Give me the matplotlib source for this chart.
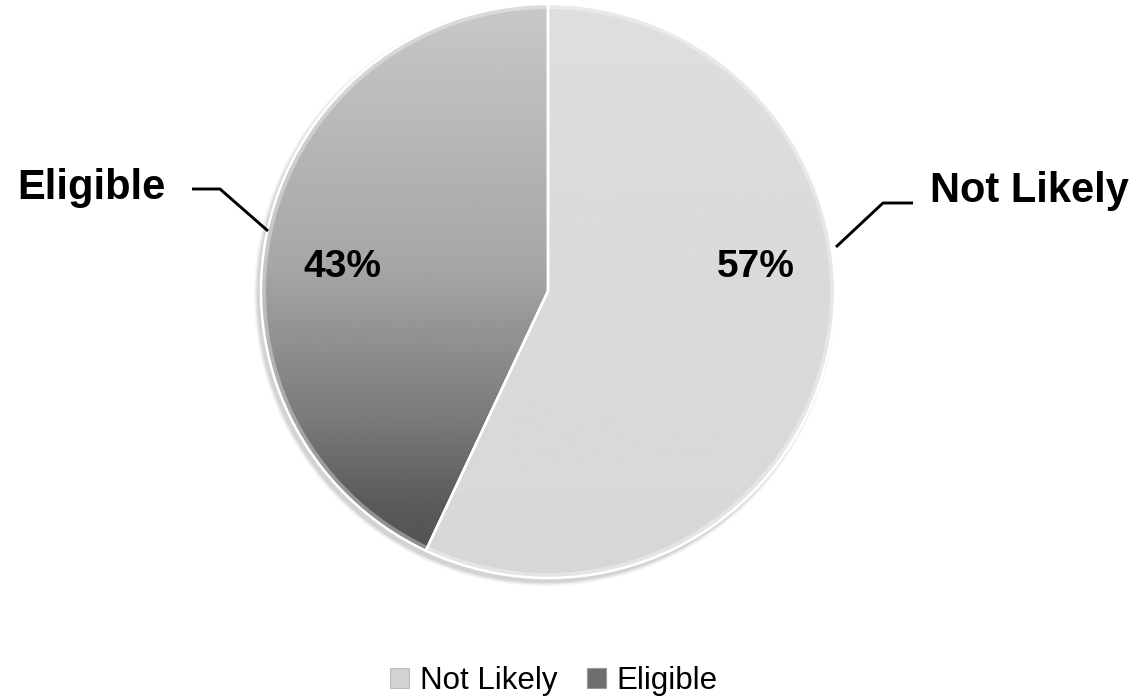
import numpy as np
import matplotlib
matplotlib.use("Agg")
import matplotlib.pyplot as plt
from matplotlib.patches import Patch, Circle, Wedge

plt.rcParams['font.family'] = ['Liberation Sans', 'DejaVu Sans']

categories = ["Not Likely", "Eligible"]
values = [57, 43]
pct_labels = ["57%", "43%"]

W, H = 1140, 698
fig = plt.figure(figsize=(W / 100, H / 100), dpi=100)
ax = fig.add_axes([0, 0, 1, 1])
ax.set_xlim(0, W)
ax.set_ylim(0, H)
ax.set_aspect('equal')
ax.axis('off')


def py(y):
    return H - y


cx, cy, r = 548, py(291), 287

# soft shadow, offset down-left
for k, a in [(4, 0.04), (2.5, 0.06), (1, 0.08)]:
    ax.add_patch(Circle((cx - 3, cy - 4), r + k, color='#000000', alpha=a, lw=0, zorder=0))

wedges, _ = ax.pie(values, startangle=90, counterclock=False, center=(cx, cy), radius=r,
                   explode=[0.0, 0.012], frame=True,
                   colors=['#d9d9d9', '#888888'],
                   wedgeprops=dict(edgecolor='white', linewidth=1.8))
ax.set_xlim(0, W)
ax.set_ylim(0, H)
ax.axis('off')

# gradient fills
ys = np.linspace(0, H, 400)
top = np.array([0, 5, 266, 420, 505, 580, H])
lvl_elig = np.array([205, 200, 166, 122, 90, 78, 78]) / 255.0
lvl_nl = np.array([222, 222, 218, 217, 216, 214, 214]) / 255.0
for w, lv in zip(wedges, [lvl_nl, lvl_elig]):
    g = np.interp(H - ys, top, lv)
    img = np.repeat(g[:, None], 2, axis=1)
    im = ax.imshow(img, cmap='gray', vmin=0, vmax=1, extent=(0, W, 0, H),
                   origin='lower', aspect='auto', zorder=w.get_zorder() + 0.1)
    im.set_clip_path(w)
    # bevel rim
    ax.add_patch(Wedge(w.center, w.r, w.theta1, w.theta2, width=5,
                       facecolor='white', alpha=0.35, lw=0,
                       zorder=w.get_zorder() + 0.2))
    w.set_zorder(w.get_zorder() + 0.3)
    w.set_facecolor('none')

# percent labels
ax.text(756, py(267), pct_labels[0], fontsize=28, fontweight='bold', ha='center', va='center', zorder=5)
ax.text(342, py(267), pct_labels[1], fontsize=28, fontweight='bold', ha='center', va='center', zorder=5)

# outer labels with leader lines
ax.plot([192, 220, 268], [py(189), py(189), py(231)], color='black', lw=2.1, zorder=5,
        solid_capstyle='butt')
ax.text(17, py(188), categories[1], fontsize=30, fontweight='bold', ha='left', va='center', zorder=5)
ax.plot([836, 883, 913], [py(247), py(203), py(203)], color='black', lw=2.1, zorder=5,
        solid_capstyle='butt')
ax.text(930, py(191), categories[0], fontsize=30, fontweight='bold', ha='left', va='center', zorder=5)

handles = [Patch(facecolor='#d4d4d4', edgecolor='#bbbbbb', lw=0.8),
           Patch(facecolor='#6e6e6e', edgecolor='#999999', lw=0.8)]
fig.legend(handles, categories, loc='center', bbox_to_anchor=(554 / W, 1 - 681 / H),
           ncol=2, frameon=False, fontsize=22.5, handlelength=0.6, handleheight=0.6,
           handletextpad=0.35, columnspacing=0.95)

fig.savefig('out.png', dpi=100)
